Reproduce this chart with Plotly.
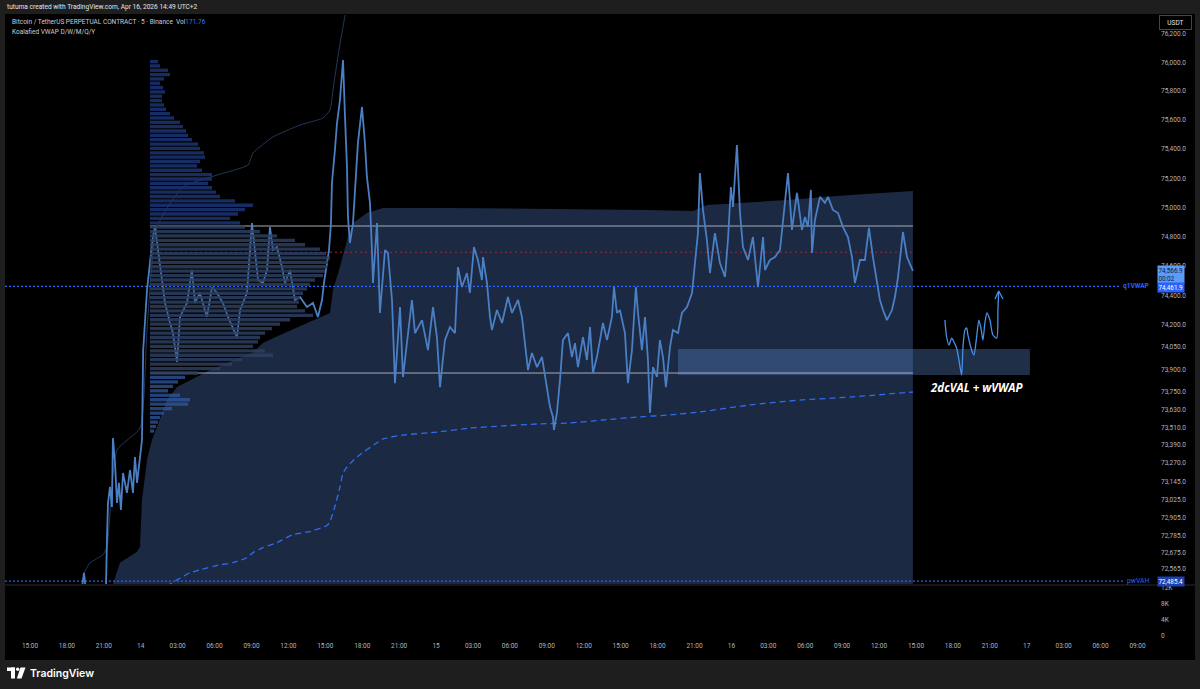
import math
from datetime import datetime, timedelta
import plotly.graph_objects as go

BASE = datetime(2026, 4, 13, 0, 0)  # hours below are counted from this time (UTC+2)

# ---------------- data ----------------
price_hours = [13.5, 19.0, 19.39, 19.6, 21.0, 21.18, 21.26, 21.34, 21.5, 21.66, 21.74, 21.91, 22.07, 22.23, 22.39,
               22.56, 22.88, 23.13, 23.37, 23.53, 23.7, 23.86, 24.1, 24.2, 24.51, 24.75, 24.99, 25.16, 25.4, 25.56,
               25.73, 25.97, 26.38, 26.62, 26.95, 27.19, 27.76, 28.16, 28.41, 28.81, 29.38, 29.79, 30.2, 30.68,
               31.09, 31.82, 32.07, 32.63, 33.04, 33.28, 33.53, 33.93, 34.26, 34.5, 34.75, 35.07, 35.48, 35.72,
               36.13, 36.53, 36.94, 37.51, 38.0, 38.4, 38.73, 38.89, 39.13, 39.3, 39.46, 39.54, 39.78, 39.95,
               40.19, 40.44, 40.6, 40.76, 40.84, 41.0, 41.25, 41.49, 41.65, 41.98, 42.22, 42.38, 42.63, 42.79,
               42.87, 43.2, 43.44, 43.85, 44.09, 44.42, 44.66, 45.07, 45.31, 46.04, 46.29, 46.86, 47.34, 47.75,
               48.07, 48.32, 48.72, 49.13, 49.54, 49.78, 50.1, 50.51, 50.75, 51.08, 51.4, 51.73, 51.81, 52.14,
               52.38, 52.54, 52.95, 53.36, 53.84, 54.17, 54.66, 54.98, 55.22, 55.47, 55.79, 56.2, 56.61, 56.85,
               57.09, 57.26, 57.5, 57.58, 57.82, 58.07, 58.31, 58.72, 59.04, 59.29, 59.53, 59.94, 60.26, 60.51,
               60.75, 61.07, 61.32, 61.56, 61.89, 62.29, 62.46, 62.7, 62.94, 63.35, 63.59, 63.92, 64.24, 64.41,
               64.73, 64.98, 65.22, 65.38, 65.63, 65.95, 66.19, 66.44, 66.68, 67.01, 67.25, 67.66, 67.98, 68.39,
               68.8, 69.04, 69.28, 69.44, 69.69, 70.01, 70.26, 70.66, 71.07, 71.48, 71.72, 71.96, 72.13, 72.45,
               72.7, 72.94, 73.35, 73.75, 74.16, 74.57, 74.73, 75.13, 75.54, 75.95, 76.35, 76.6, 76.92, 77.33,
               77.73, 77.98, 78.22, 78.46, 78.55, 78.79, 79.2, 79.6, 79.85, 80.25, 80.66, 81.07, 81.47, 81.8,
               82.04, 82.45, 82.85, 83.18, 83.5, 83.83, 84.07, 84.32, 84.64, 85.05, 85.29, 85.54, 85.94, 86.27,
               86.75]
price_values = [72200, 72300, 72540, 72380, 72380, 72466, 72778, 73004, 73111, 72977, 73438, 73271, 73004, 73138, 72957,
                73204, 73071, 73224, 73071, 73311, 73138, 73271, 73424, 74030, 74437, 74621, 74798, 74866, 74709, 74593,
                74484, 74349, 74213, 74145, 73949, 74254, 74349, 74573, 74349, 74417, 74254, 74457, 74417, 74349,
                74254, 74118, 74301, 74417, 74893, 74709, 74505, 74484, 74573, 74866, 74709, 74729, 74593, 74484,
                74573, 74369, 74389, 74321, 74349, 74254, 74369, 74484, 74621, 74709, 74893, 75168, 75394, 75580,
                75739, 76016, 75621, 75278, 74935, 74757, 74893, 75209, 75442, 75691, 75442, 75209, 75031, 74709,
                74484, 74893, 74281, 74709, 74689, 74369, 73807, 74321, 73848, 74369, 74145, 74233, 74030, 74321,
                74118, 73780, 74097, 74186, 74145, 74593, 74457, 74552, 74417, 74729, 74641, 74505, 74661, 74484,
                74254, 74166, 74301, 74213, 74389, 74281, 74369, 74254, 74097, 73895, 74010, 73915, 73983, 73848,
                73713, 73646, 73579, 73492, 73606, 73827, 74097, 74145, 73983, 74077, 73915, 74118, 73963, 74186,
                73875, 73983, 74097, 74213, 74097, 74254, 74457, 74281, 74301, 74145, 73807, 74030, 74457, 74281,
                74030, 74254, 73963, 73606, 73915, 73848, 74097, 73983, 73780, 74050, 74166, 74145, 74281, 74321,
                74417, 74641, 74825, 75236, 74983, 74777, 74552, 74825, 74621, 74525, 74777, 75140, 75003, 75428,
                74962, 74729, 74641, 74798, 74457, 74798, 74573, 74641, 74661, 74709, 75031, 75236, 74846, 75099,
                74846, 74935, 74866, 75120, 74689, 74914, 75072, 75031, 75072, 74983, 74962, 74866, 74798, 74661,
                74484, 74641, 74641, 74860, 74661, 74505, 74369, 74301, 74233, 74301, 74389, 74525, 74832, 74661,
                74566.9]

# weekly VWAP (dashed)
wvwap_hours = [24.75, 26.38, 26.95, 28.0, 28.81, 30.44, 31.5, 32.63, 33.12, 33.93, 35.07, 36.37, 37.75, 39.13,
               39.38, 39.78, 40.19, 40.44, 40.76, 41.57, 43.69, 45.31, 48.07, 50.75, 53.44, 56.2, 58.88, 61.56,
               64.33, 67.01, 69.44, 73.51, 77.57, 81.63, 86.75]
wvwap_values = [72380, 72466, 72493, 72540, 72560, 72593, 72607, 72640, 72674, 72707, 72740, 72794, 72814, 72854,
                72880, 72980, 73111, 73204, 73244, 73311, 73432, 73458, 73478, 73505, 73519, 73532, 73539, 73559,
                73579, 73593, 73613, 73660, 73693, 73713, 73747]

# anchored VWAP upper band (thin dark line)
band_hours = [19.39, 19.88, 20.93, 21.26, 22.07, 23.94, 24.51, 25.32, 27.43, 30.2, 32.72, 33.12, 34.75, 36.94,
              38.81, 39.38, 39.62, 40.11, 40.6, 40.84]
band_values = [72540, 72606, 72660, 72713, 73358, 73505, 74166, 74866, 75140, 75222, 75291, 75373, 75484, 75566,
               75615, 75670, 75808, 76086, 76329, 76500]

# VWAP band cloud (upper edge of shaded area)
cloud_hours = [21.5, 21.74, 22.31, 23.7, 23.94, 24.1, 24.51, 24.91, 25.32, 26.13, 26.95, 28.0, 29.63, 33.04,
               33.93, 35.32, 38.0, 39.38, 39.62, 40.19, 40.76, 41.25, 42.38, 43.69, 49.13, 57.26, 61.32, 65.14,
               68.88, 70.01, 76.51, 81.63, 86.75]
cloud_values = [72300, 72466, 72606, 72680, 72713, 73024, 73291, 73424, 73512, 73693, 73780, 73827, 73895, 74010,
                74077, 74132, 74233, 74281, 74437, 74593, 74777, 74893, 74962, 74996, 74996, 74990, 74990, 74983,
                74976, 75017, 75051, 75085, 75113]
cloud_floor = 72000

# fixed-range volume profile (30 USDT rows from the top row downward)
profile_top = 76005
profile_step = 30
profile_volume = [8, 10, 18, 20, 14, 10, 13, 15, 12, 12, 14, 16, 20, 24, 30, 33, 36, 38, 42, 48,
                  50, 54, 55, 50, 47, 52, 62, 62, 58, 62, 66, 70, 85, 103, 95, 88, 80, 90, 95, 110,
                  127, 145, 155, 170, 176, 180, 178, 177, 175, 173, 165, 160, 157, 153, 150, 149, 147, 155, 163, 140,
                  130, 122, 115, 110, 108, 103, 115, 123, 92, 82, 70, 48, 35, 28, 23, 18, 30, 40, 38, 22,
                  14, 10, 8, 6, 4]
profile_start_h = 24.75
profile_end_h = 86.75
vah_price = 74873
val_price = 73875
poc_price = 74694

q1vwap_price = 74461.9
pwvah_price = 72485.4
last_price = 74566.9

zone_hours = [67.66, 96.26]
zone_prices = [73862, 74037]

# hand drawn idea
sketch_hours = [89.35, 89.49, 89.68, 89.9, 90.08, 90.3, 90.49, 90.71, 90.82, 90.98, 91.12, 91.22, 91.52, 91.71,
                91.93, 92.11, 92.28, 92.44, 92.6, 92.77, 93.01, 93.25, 93.56, 93.66, 93.72]
sketch_values = [74233, 74120, 74064, 74111, 74086, 74044, 73963, 73862, 74052, 74166, 74179, 74132, 74030, 73996,
                 74120, 74233, 74179, 74097, 74213, 74281, 74233, 74132, 74111, 74301, 74430]
arrow_hours = [93.42, 93.72, 94.07]
arrow_values = [74376, 74430, 74376]

price_ticks = [76200, 76000, 75800, 75600, 75400, 75200, 75000, 74800, 74600, 74400, 74200, 74050, 73900, 73750,
               73630, 73510, 73390, 73270, 73145, 73025, 72905, 72785, 72675, 72565]
vol_ticks = [0, 4000, 8000, 12000]
vol_tick_labels = ["0", "4K", "8K", "12K"]
time_tick_start_h = 15
time_tick_labels = ["15:00", "18:00", "21:00", "14", "03:00", "06:00", "09:00", "12:00", "15:00", "18:00", "21:00",
                    "15", "03:00", "06:00", "09:00", "12:00", "15:00", "18:00", "21:00", "16", "03:00", "06:00",
                    "09:00", "12:00", "15:00", "18:00", "21:00", "17", "03:00", "06:00", "09:00"]

x_range_h = [12.97, 106.18]
y_range_price = [72466, 76329]

# ---------------- helpers ----------------
def T(h):
    return BASE + timedelta(hours=h)

def Ts(hs):
    return [T(h) for h in hs]

W, H = 1200, 689
ML, MR, MT, MB = 5, 48, 15, 49
PW, PH = W - ML - MR, H - MT - MB

def px(x):
    return (x - ML) / PW

def py(y):
    return (H - MB - y) / PH

FONT = "Roboto, 'Liberation Sans', sans-serif"
TXT = "#b2b5be"

fig = go.Figure()

# cloud
fig.add_trace(go.Scatter(
    x=Ts(cloud_hours + [cloud_hours[-1], cloud_hours[0]]),
    y=cloud_values + [cloud_floor, cloud_floor],
    fill="toself", fillcolor="#1b2942", line=dict(width=0), mode="lines", hoverinfo="skip"))

# zone box
fig.add_trace(go.Scatter(
    x=Ts([zone_hours[0], zone_hours[1], zone_hours[1], zone_hours[0], zone_hours[0]]),
    y=[zone_prices[0], zone_prices[0], zone_prices[1], zone_prices[1], zone_prices[0]],
    fill="toself", fillcolor="rgba(95,145,225,0.32)", line=dict(width=0), mode="lines", hoverinfo="skip"))

# volume profile rows
groups = {"above": ([], [], "rgba(26,52,115,0.85)"),
          "inside": ([], [], "rgba(45,62,95,0.85)"),
          "below": ([], [], "rgba(48,88,160,0.75)")}
for i, v in enumerate(profile_volume):
    lvl = profile_top - profile_step * i
    key = "above" if lvl > vah_price else ("inside" if lvl >= val_price else "below")
    xs, ys, _ = groups[key]
    xs += [0, v, None]
    ys += [lvl, lvl, None]
for key, (xs, ys, col) in groups.items():
    fig.add_trace(go.Scatter(x=xs, y=ys, mode="lines", line=dict(color=col, width=3.3),
                             xaxis="x3", yaxis="y", hoverinfo="skip"))

# value area + POC lines
for lvl in (vah_price, val_price):
    fig.add_trace(go.Scatter(x=Ts([profile_start_h, profile_end_h]), y=[lvl, lvl], mode="lines",
                             line=dict(color="#a9adb8", width=1), hoverinfo="skip"))
fig.add_trace(go.Scatter(x=Ts([profile_start_h, profile_end_h]), y=[poc_price, poc_price], mode="lines",
                         line=dict(color="#a3283a", width=1, dash="2px,3px"), hoverinfo="skip"))

# band line
fig.add_trace(go.Scatter(x=Ts(band_hours), y=band_values, mode="lines",
                         line=dict(color="#22375c", width=1, shape="spline", smoothing=0.5), hoverinfo="skip"))
# weekly vwap
fig.add_trace(go.Scatter(x=Ts(wvwap_hours), y=wvwap_values, mode="lines",
                         line=dict(color="#2f6cf0", width=1.3, dash="6px,4px", shape="spline", smoothing=0.4),
                         hoverinfo="skip"))
# q1VWAP, pwVAH
fig.add_trace(go.Scatter(x=Ts([x_range_h[0], 103.57]), y=[q1vwap_price, q1vwap_price], mode="lines",
                         line=dict(color="#2962ff", width=1.2, dash="2px,2px"), hoverinfo="skip"))
fig.add_trace(go.Scatter(x=Ts([x_range_h[0], 103.98]), y=[pwvah_price, pwvah_price], mode="lines",
                         line=dict(color="#2962ff", width=1.2, dash="2px,2px"), hoverinfo="skip"))

# price
fig.add_trace(go.Scatter(x=Ts(price_hours), y=price_values, mode="lines",
                         line=dict(color="#4a7fc4", width=1.8), hoverinfo="skip"))

# sketch
fig.add_trace(go.Scatter(x=Ts(sketch_hours), y=sketch_values, mode="lines",
                         line=dict(color="#4a8fe6", width=1.3, shape="spline", smoothing=0.7), hoverinfo="skip"))
fig.add_trace(go.Scatter(x=Ts(arrow_hours), y=arrow_values, mode="lines",
                         line=dict(color="#4a8fe6", width=1.3), hoverinfo="skip"))

# empty volume pane
fig.add_trace(go.Scatter(x=[], y=[], xaxis="x", yaxis="y2", hoverinfo="skip"))

tick_hours = [time_tick_start_h + 3 * i for i in range(len(time_tick_labels))]

fig.update_layout(
    width=W, height=H, showlegend=False, hovermode=False,
    margin=dict(l=ML, r=MR, t=MT, b=MB, pad=0),
    paper_bgcolor="#1e1e1e", plot_bgcolor="#000000",
    font=dict(family=FONT, color=TXT, size=6.5),
    xaxis=dict(type="date", range=Ts(x_range_h), anchor="y2", domain=[0, 1],
               tickvals=Ts(tick_hours), ticktext=time_tick_labels, showgrid=False, zeroline=False,
               showline=False, ticks="", tickfont=dict(size=6.5, color=TXT), fixedrange=True),
    xaxis3=dict(overlaying="x", range=[-(150 - ML), (W - MR) - 150], visible=False, anchor="y"),
    yaxis=dict(type="log", domain=[py(584), 1], anchor="x", side="right",
               range=[math.log10(y_range_price[0]), math.log10(y_range_price[1])],
               tickvals=price_ticks, ticktext=[f"{v:,.1f}" for v in price_ticks],
               showgrid=False, zeroline=False, showline=False, ticks="", ticklabelstandoff=8,
               tickfont=dict(size=6.5, color=TXT)),
    yaxis2=dict(domain=[0, py(585)], anchor="x", side="right", range=[-1000, 12750],
                tickvals=vol_ticks, ticktext=vol_tick_labels, showgrid=False, zeroline=False,
                showline=False, ticks="", ticklabelstandoff=8, tickfont=dict(size=6.5, color=TXT)),
)

shapes = [
    dict(type="rect", xref="paper", yref="paper", x0=px(5), x1=px(1195), y0=py(660), y1=py(14),
         fillcolor="#000000", line=dict(width=0), layer="below"),
    dict(type="line", xref="paper", yref="paper", x0=px(5), x1=px(1195), y0=py(585), y1=py(585),
         line=dict(color="#2a2a2a", width=1)),
    # TradingView logo
    dict(type="rect", xref="paper", yref="paper", x0=px(7), x1=px(15), y0=py(671), y1=py(667.5),
         fillcolor="#ffffff", line=dict(width=0)),
    dict(type="rect", xref="paper", yref="paper", x0=px(11), x1=px(15), y0=py(678.5), y1=py(667.5),
         fillcolor="#ffffff", line=dict(width=0)),
    dict(type="circle", xref="paper", yref="paper", x0=px(16), x1=px(19.4), y0=py(671), y1=py(667.6),
         fillcolor="#ffffff", line=dict(width=0)),
    dict(type="path", xref="paper", yref="paper",
         path=f"M {px(20.5)},{py(667.5)} L {px(25.5)},{py(667.5)} L {px(21.5)},{py(678.5)} L {px(16.8)},{py(678.5)} Z",
         fillcolor="#ffffff", line=dict(width=0)),
]
fig.update_layout(shapes=shapes)

ann = []
ann.append(dict(text="tutuma created with TradingView.com, Apr 16, 2026 14:49 UTC+2", xref="paper", yref="paper",
                x=px(5), y=py(7), xanchor="left", yanchor="middle", showarrow=False,
                font=dict(size=6.6, color="#e6e6e6", family=FONT)))
ann.append(dict(text="Bitcoin / TetherUS PERPETUAL CONTRACT · 5 · Binance  Vol<span style='color:#2f7cf6'>171.76</span>",
                xref="paper", yref="paper", x=px(10), y=py(22), xanchor="left", yanchor="middle",
                showarrow=False, font=dict(size=6.5, color="#c9ccd3", family=FONT)))
ann.append(dict(text="Koalafied VWAP D/W/M/Q/Y", xref="paper", yref="paper", x=px(10), y=py(32),
                xanchor="left", yanchor="middle", showarrow=False, font=dict(size=6.5, color="#c9ccd3", family=FONT)))
ann.append(dict(text="USDT", xref="paper", yref="paper", x=px(1175), y=py(22.5), xanchor="center", yanchor="middle",
                showarrow=False, bgcolor="#000000", bordercolor="#434651", borderwidth=1, borderpad=2.5,
                width=26, font=dict(size=6.5, color="#e6e6e6", family=FONT)))
# price labels on axis
ann.append(dict(text=f"{last_price:,.1f}<br>00:02", xref="paper", yref="y", x=1, y=math.log10(last_price),
                xanchor="left", yanchor="top", xshift=5, yshift=6, showarrow=False, bgcolor="#5b9cf6",
                borderpad=0.5, align="left", font=dict(size=6.3, color="#0d1b36", family=FONT)))
ann.append(dict(text=f"{q1vwap_price:,.1f}", xref="paper", yref="y", x=1, y=math.log10(q1vwap_price),
                xanchor="left", yanchor="middle", xshift=5, yshift=-1, showarrow=False, bgcolor="#2962ff",
                borderpad=0.5, font=dict(size=6.3, color="#ffffff", family=FONT)))
ann.append(dict(text=f"{pwvah_price:,.1f}", xref="paper", yref="y", x=1, y=math.log10(pwvah_price),
                xanchor="left", yanchor="middle", xshift=5, showarrow=False, bgcolor="#1e40b0",
                borderpad=0.5, font=dict(size=6.3, color="#ffffff", family=FONT)))
ann.append(dict(text="<b>q1VWAP</b>", xref="paper", yref="y", x=1, y=math.log10(q1vwap_price),
                xanchor="right", yanchor="middle", xshift=-1, showarrow=False,
                font=dict(size=6.5, color="#2962ff", family=FONT)))
ann.append(dict(text="pwVAH", xref="paper", yref="y", x=1, y=math.log10(pwvah_price),
                xanchor="right", yanchor="middle", xshift=-1, showarrow=False,
                font=dict(size=6.8, color="#2962ff", family=FONT)))
ann.append(dict(text="2dcVAL + wVWAP", xref="x", yref="y", x=T(91.95), y=math.log10(73780),
                xanchor="center", yanchor="middle", showarrow=False,
                font=dict(size=11.5, color="#ffffff", family="'Open Sans', sans-serif", style="italic", weight=700)))
ann.append(dict(text="TradingView", xref="paper", yref="paper", x=px(28), y=py(673), xanchor="left",
                yanchor="middle", showarrow=False, font=dict(size=10.5, color="#ffffff", family="Inter, sans-serif",
                                                             weight=600)))
fig.update_layout(annotations=ann)

fig.write_html("out.html", config={"displayModeBar": False, "staticPlot": True},
               post_script="document.body.style.margin='0';document.body.style.background='#1e1e1e';")
